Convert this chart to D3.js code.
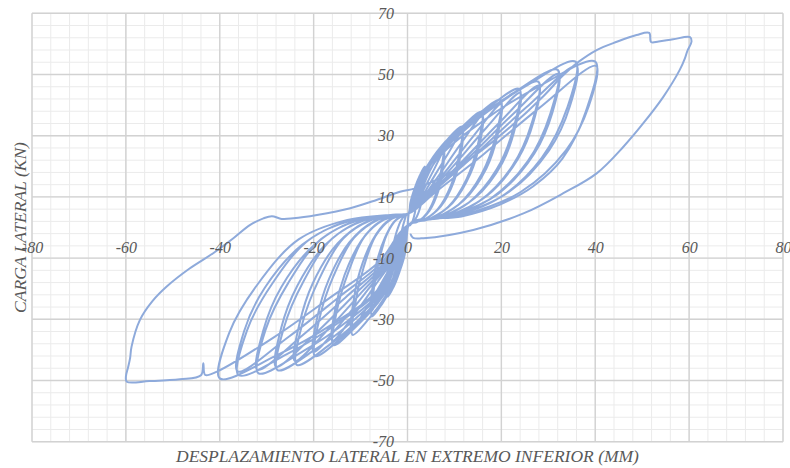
<!DOCTYPE html>
<html><head><meta charset="utf-8">
<script src="https://cdn.jsdelivr.net/npm/d3@7"></script>
<style>
html,body{margin:0;padding:0;background:#fff;}
svg{display:block;}
.tick text{font-family:"Liberation Serif","Times New Roman",serif;font-style:italic;font-size:16px;fill:#595959;}
.ttl{font-family:"Liberation Serif","Times New Roman",serif;font-style:italic;font-size:17.5px;fill:#595959;}
</style></head>
<body><svg id="c" width="790" height="468"></svg>
<script>
// ---- tick values ----
const xTicks = [-80,-60,-40,-20,0,20,40,60,80];
const yTicks = [-70,-50,-30,-10,10,30,50,70];
const xTitle = "DESPLAZAMIENTO LATERAL EN EXTREMO INFERIOR (MM)";
const yTitle = "CARGA LATERAL (KN)";

// ---- hysteresis data: [displacement mm, load kN], one array per cycle ----
const cycle01 = [[0,0],[0.3,4.8],[0.8,7.7],[1.4,10.2],[2,12],[1.9,8.6],[1.6,5],[1.1,2.2],[0.6,0.8],[0.2,0.5],
  [-0.3,-4.8],[-0.8,-7.7],[-1.4,-10.2],[-2,-12],[-1.9,-8.4],[-1.6,-4.6],[-1.2,-1],[-0.6,2.5],[-0.2,4.2]];
const cycle02 = [[0.3,4.6],[0.6,8],[1.5,12.7],[2.6,16.9],[3.7,19.9],[3.5,14.3],[3,8.4],[2,3.6],[1,1.4],[0.3,1],
  [-0.6,-9],[-1.7,-14.5],[-2.9,-19.2],[-4.2,-22.6],[-4,-15.8],[-3.4,-8.6],[-2.4,-1.8],[-1.3,2.5],[-0.3,4.2]];
const cycle03 = [[0.3,4.6],[1.1,10.6],[3,16.9],[5.3,22.4],[7.6,26.4],[7.2,19],[6.1,11.1],[4.2,4.8],[2.1,1.8],[0.3,1],
  [-1.1,-11.6],[-3,-18.6],[-5.3,-24.7],[-7.6,-29.1],[-7.2,-20.4],[-6.1,-11.1],[-4.4,-2.3],[-2.4,2.5],[-0.6,4.2]];
const cycle04 = [[0.3,4.6],[1.2,5.5],[3.1,11.3],[5.5,18.5],[7.8,25],[7.5,18.8],[6.6,12],[4.7,5.5],[2.3,2],[0.3,1],
  [-1.2,-6.6],[-3.1,-13.2],[-5.5,-21],[-7.8,-27.6],[-7.5,-19.9],[-6.6,-11.6],[-4.8,-3.3],[-2.8,2],[-0.8,4]];
const cycle05 = [[0.3,4.6],[1.7,13.2],[4.6,21.1],[8.1,28.1],[11.6,33],[11,23.8],[9.3,13.9],[6.4,5.9],[3.2,2.3],[0.3,1],
  [-1.8,-14],[-4.7,-22.5],[-8.2,-29.8],[-11.7,-35.1],[-11.1,-24.6],[-9.4,-13.3],[-6.8,-2.8],[-3.7,2.5],[-0.9,4.2]];
const cycle06 = [[0.3,4.6],[1.8,6.9],[4.7,14.2],[8.3,23.3],[11.8,31.5],[11.3,23.6],[9.9,15.1],[7.1,6.9],[3.5,2.5],[0.3,1],
  [-1.8,-8],[-4.8,-16.1],[-8.4,-25.5],[-12,-33.5],[-11.5,-24.1],[-10.1,-14.1],[-7.4,-4],[-4.3,2],[-1.2,4]];
const cycle07 = [[0.3,4.6],[2.4,15.1],[6.3,24.2],[11.1,32.1],[15.8,37.8],[15,27.2],[12.6,15.9],[8.7,6.8],[4.4,2.6],[0.3,1],
  [-2.4,-15.4],[-6.3,-24.6],[-11.1,-32.6],[-15.8,-38.4],[-15,-26.9],[-12.6,-14.6],[-9.2,-3.1],[-5.1,2.5],[-1.3,4.2]];
const cycle08 = [[0.3,4.6],[2.4,8],[6.4,16.4],[11.2,27],[16,36.5],[15.4,27.4],[13.4,17.5],[9.6,8],[4.8,2.9],[0.3,1],
  [-2.4,-8.9],[-6.4,-17.8],[-11.2,-28.1],[-16,-37],[-15.4,-26.6],[-13.4,-15.5],[-9.9,-4.4],[-5.8,2],[-1.6,4]];
const cycle09 = [[0.3,4.6],[3,16.7],[7.9,26.7],[13.9,35.4],[19.8,41.7],[18.8,30],[15.8,17.5],[10.9,7.5],[5.5,2.9],[0.3,1],
  [-3,-16.8],[-7.9,-26.9],[-13.8,-35.7],[-19.7,-42],[-18.7,-29.4],[-15.8,-16],[-11.4,-3.4],[-6.3,2.5],[-1.6,4.2]];
const cycle10 = [[0.3,4.6],[3,8.9],[8,18.1],[14,29.8],[20,40.3],[19.2,30.2],[16.8,19.3],[12,8.9],[6,3.2],[0.3,1],
  [-3,-9.7],[-8,-19.5],[-14,-30.9],[-20,-40.6],[-19.2,-29.2],[-16.8,-17.1],[-12.4,-4.9],[-7.2,2],[-2,4]];
const cycle11 = [[0.3,4.6],[3.6,18.1],[9.5,29],[16.7,38.5],[23.8,45.3],[22.6,32.6],[19,19],[13.1,8.2],[6.7,3.2],[0.3,1],
  [-3.5,-18],[-9.4,-28.7],[-16.5,-38.2],[-23.6,-44.9],[-22.4,-31.4],[-18.9,-17.1],[-13.7,-3.6],[-7.6,2.5],[-1.9,4.2]];
const cycle12 = [[0.3,4.6],[3.6,9.7],[9.6,19.8],[16.8,32.6],[24,44],[23,33],[20.2,21.1],[14.4,9.7],[7.2,3.5],[0.3,1],
  [-3.6,-10.5],[-9.6,-20.9],[-16.8,-33.1],[-24,-43.6],[-23,-31.4],[-20.2,-18.3],[-14.9,-5.2],[-8.6,2],[-2.4,4]];
const cycle13 = [[0.3,4.6],[4.2,19],[11.2,30.5],[19.5,40.5],[27.9,47.6],[26.5,34.3],[22.3,20],[15.3,8.6],[7.8,3.3],[0.3,1],
  [-4.2,-18.6],[-11.1,-29.8],[-19.4,-39.6],[-27.7,-46.6],[-26.3,-32.6],[-22.2,-17.7],[-16.1,-3.7],[-8.9,2.5],[-2.2,4.2]];
const cycle14 = [[0.3,4.6],[4.2,10.2],[11.2,20.9],[19.6,34.3],[28,46.4],[26.9,34.8],[23.5,22.3],[16.8,10.2],[8.4,3.7],[0.3,1],
  [-4.2,-10.9],[-11.2,-21.8],[-19.6,-34.6],[-28,-45.5],[-26.9,-32.8],[-23.5,-19.1],[-17.4,-5.5],[-10.1,2],[-2.8,4]];
const cycle15 = [[0.3,4.6],[4.8,20.6],[12.8,33],[22.4,43.8],[32,51.5],[30.4,37.1],[25.6,21.6],[17.6,9.3],[9,3.6],[0.3,1],
  [-4.8,-19],[-12.7,-30.5],[-22.3,-40.5],[-31.8,-47.6],[-30.2,-33.3],[-25.4,-18.1],[-18.4,-3.8],[-10.2,2.5],[-2.5,4.2]];
const cycle16 = [[0.3,4.6],[4.8,11],[12.9,22.6],[22.5,37.1],[32.2,50.2],[30.9,37.7],[27,24.1],[19.3,11],[9.7,4],[0.3,1],
  [-4.8,-11.2],[-12.8,-22.3],[-22.4,-35.3],[-32,-46.5],[-30.7,-33.5],[-26.9,-19.5],[-19.8,-5.6],[-11.5,2],[-3.2,4]];
const cycle17 = [[0.3,4.6],[5.4,21.7],[14.3,34.7],[25.1,46.1],[35.8,54.2],[34,39],[28.6,22.8],[19.7,9.8],[10,3.8],[0.3,1],
  [-5.4,-19.3],[-14.4,-30.8],[-25.2,-41],[-36,-48.2],[-34.2,-33.7],[-28.8,-18.3],[-20.9,-3.9],[-11.5,2.5],[-2.9,4.2]];
const cycle18 = [[0.3,4.6],[5.4,11.6],[14.4,23.8],[25.2,39.1],[36,52.8],[34.6,39.6],[30.2,25.3],[21.6,11.6],[10.8,4.2],[0.3,1],
  [-5.4,-11.3],[-14.5,-22.6],[-25.3,-35.7],[-36.2,-47],[-34.8,-33.8],[-30.4,-19.7],[-22.4,-5.6],[-13,2],[-3.6,4]];
const cycle19 = [[0.3,4.6],[6,21.7],[16,34.7],[28,46.1],[40,54.2],[38,38],[33,22.5],[26.8,13.5],[19.7,7.5],[11.5,3.6],[0.3,1],
  [-6,-19.7],[-16,-31.6],[-28,-41.9],[-40,-49.3],[-38,-34.5],[-32,-18.7],[-23.2,-3.9],[-12.8,2.5],[-3.2,4.2]];
const cycle20 = [[0.3,4.6],[6,11.6],[16.1,23.8],[28.1,39.1],[40.2,52.8],[38.6,39.6],[33.8,25.3],[24.1,11.6],[12.1,4.2],[0.3,1],
  [-6.1,-11.3],[-16.2,-22.6],[-28.4,-35.8]];
const bigCycle = [[-40.6,-47.1],[-43.1,-48.2],[-43.5,-44.4],[-44,-48.3],[-48.5,-49.6],[-55,-50.2],[-59.8,-50.4],
  [-60,-48.8],[-59.5,-45.5],[-59.1,-42.7],[-58.8,-39],[-57,-30.2],[-54.3,-24],[-51.3,-19.3],[-46.5,-13.5],[-41.4,-8.4],
  [-37.1,-3.5],[-33.6,0.8],[-30.7,3],[-28.9,3.7],[-26.8,2.8],[-24.3,3],[-19.3,4.1],[-12.2,6.3],[-6.6,9],[-1.6,11.7],
  [1.6,12.8],[7.6,16.6],[14,23.1],[22,33],[29,43],[33,49.5],[36.5,54.2],[40.3,58],[44.6,60.7],[48.8,62.9],[51.5,63.6],
  [51.9,60.6],[53.5,60.8],[56.6,61.5],[60.2,62.2],[60.5,60.7],[59.6,57.6],[59.1,55.3],[58,51.5],[54.5,42.7],[50.2,34],
  [46,26.4],[40.3,17.7],[33.2,11.2],[24.7,4.6],[14,-0.8],[3.4,-3.5],[1.2,-3.4],[0.7,-2.3]];

const series = [].concat(cycle01,cycle02,cycle03,cycle04,cycle05,cycle06,cycle07,cycle08,cycle09,cycle10,
  cycle11,cycle12,cycle13,cycle14,cycle15,cycle16,cycle17,cycle18,cycle19,cycle20,bigCycle);

// ---- layout ----
const svg = d3.select("#c");
const x = d3.scaleLinear().domain([-80,80]).range([32,783]);
const y = d3.scaleLinear().domain([-70,70]).range([441.7,13.3]);

const minorX = d3.range(-80,80.001,4);
const minorY = d3.range(-70,70.001,4);

const g = svg.append("g");
g.selectAll(".mx").data(minorX).join("line")
  .attr("x1",d=>x(d)).attr("x2",d=>x(d)).attr("y1",y(-70)).attr("y2",y(70))
  .attr("stroke","#ebebeb").attr("stroke-width",1);
g.selectAll(".my").data(minorY).join("line")
  .attr("y1",d=>y(d)).attr("y2",d=>y(d)).attr("x1",x(-80)).attr("x2",x(80))
  .attr("stroke","#ebebeb").attr("stroke-width",1);
g.selectAll(".Mx").data(xTicks).join("line")
  .attr("x1",d=>x(d)).attr("x2",d=>x(d)).attr("y1",y(-70)).attr("y2",y(70))
  .attr("stroke","#d2d2d2").attr("stroke-width",1.4);
g.selectAll(".My").data(yTicks).join("line")
  .attr("y1",d=>y(d)).attr("y2",d=>y(d)).attr("x1",x(-80)).attr("x2",x(80))
  .attr("stroke","#d2d2d2").attr("stroke-width",1.4);

// ---- data line ----
const line = d3.line().x(d=>x(d[0])).y(d=>y(d[1])).curve(d3.curveCatmullRom.alpha(0.5));
svg.append("path").datum(series).attr("d",line)
  .attr("fill","none").attr("stroke","#8eaadb").attr("stroke-width",2)
  .attr("stroke-linejoin","round").attr("stroke-linecap","round");

// ---- axes (labels only) ----
const ax = svg.append("g").attr("transform",`translate(0,${y(0)})`)
  .call(d3.axisBottom(x).tickValues(xTicks).tickSize(0).tickPadding(14.5).tickFormat(d3.format("d")));
ax.select(".domain").remove();
const ay = svg.append("g").attr("transform",`translate(${x(0)},0)`)
  .call(d3.axisLeft(y).tickValues(yTicks).tickSize(0).tickPadding(13.5).tickFormat(d3.format("d")));
ay.select(".domain").remove();
svg.selectAll(".tick text").text(d=>String(d));

// ---- titles ----
svg.append("text").attr("class","ttl").attr("x",(x(-80)+x(80))/2).attr("y",462)
  .attr("text-anchor","middle").text(xTitle);
svg.append("text").attr("class","ttl").attr("transform",`translate(26,${y(0)}) rotate(-90)`)
  .attr("text-anchor","middle").text(yTitle);
</script></body></html>
